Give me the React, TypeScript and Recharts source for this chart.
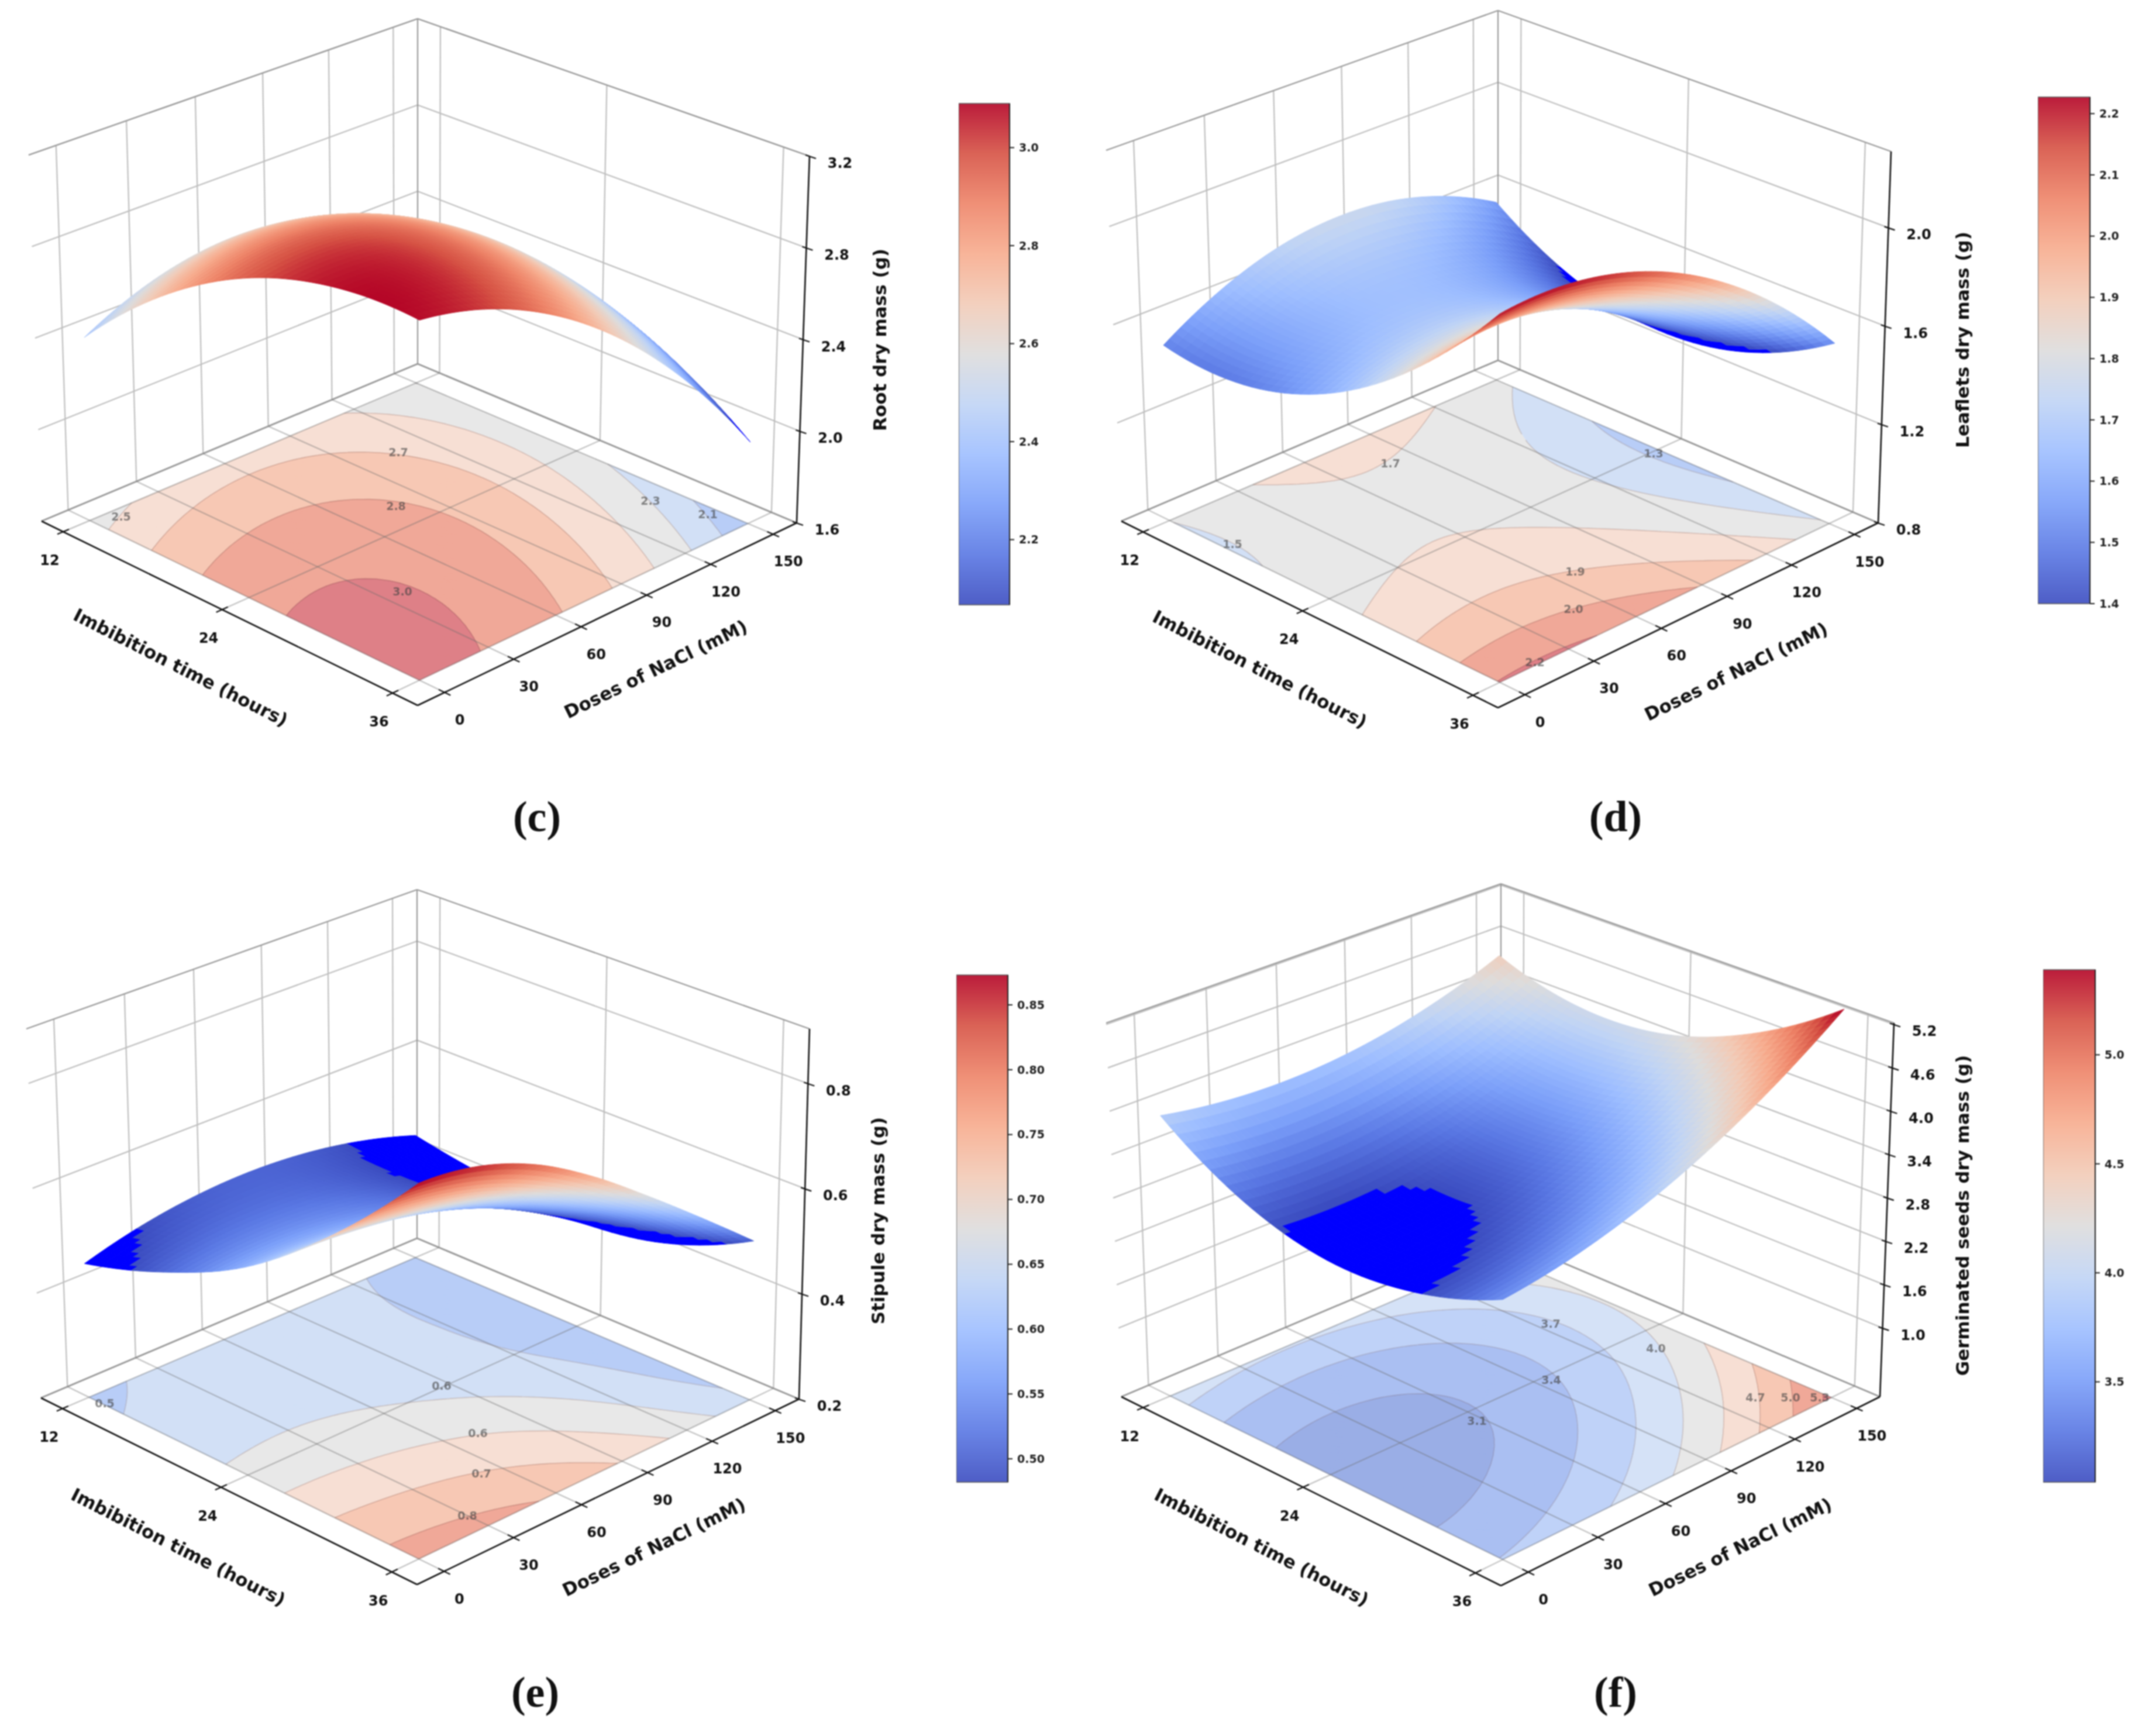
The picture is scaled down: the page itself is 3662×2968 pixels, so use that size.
import * as React from "react";
import { Bar, BarChart, Scatter, ScatterChart, XAxis, YAxis } from "recharts";

// values
const imbibitionGrid = [12, 18, 24, 30, 36];
const naclGrid = [0, 25, 50, 75, 100, 125, 150];
const imbibitionTicks = [12, 24, 36];
const naclTicks = [0, 30, 60, 90, 120, 150];

const rootDryMass = [
  [2.4, 2.516, 2.578, 2.587, 2.543, 2.447, 2.297],
  [2.73, 2.803, 2.823, 2.79, 2.703, 2.564, 2.372],
  [2.955, 2.986, 2.962, 2.887, 2.757, 2.576, 2.34],
  [3.07, 3.058, 2.992, 2.874, 2.702, 2.478, 2.2],
  [3.08, 3.025, 2.917, 2.756, 2.542, 2.275, 1.955],
];
const leafletsDryMass = [
  [1.514, 1.645, 1.728, 1.76, 1.743, 1.676, 1.561],
  [1.499, 1.6, 1.652, 1.654, 1.607, 1.51, 1.364],
  [1.611, 1.682, 1.704, 1.676, 1.599, 1.472, 1.296],
  [1.848, 1.889, 1.881, 1.822, 1.715, 1.558, 1.352],
  [2.211, 2.222, 2.183, 2.095, 1.957, 1.77, 1.533],
];
const stipuleDryMass = [
  [0.455, 0.4835, 0.4998, 0.5041, 0.4963, 0.4765, 0.445],
  [0.507, 0.5224, 0.5256, 0.5168, 0.4959, 0.463, 0.4178],
  [0.585, 0.5873, 0.5774, 0.5555, 0.5215, 0.47, 0.405],
  [0.71, 0.7, 0.68, 0.645, 0.59, 0.52, 0.43],
  [0.873, 0.86, 0.82, 0.755, 0.675, 0.59, 0.502],
];
const seedsDryMass = [
  [3.93, 3.804, 3.76, 3.8, 3.924, 4.131, 4.42],
  [3.235, 3.171, 3.19, 3.293, 3.479, 3.748, 4.1],
  [2.93, 2.929, 3.01, 3.175, 3.424, 3.756, 4.17],
  [3.015, 3.076, 3.221, 3.448, 3.759, 4.153, 4.631],
  [3.43, 3.554, 3.761, 4.05, 4.424, 4.881, 5.421],
];

const rootLevels = [2.12, 2.3, 2.49, 2.67, 2.84, 3.02];
const leafletsLevels = [1.34, 1.51, 1.69, 1.86, 2.03, 2.2];
const stipuleLevels = [0.475, 0.56, 0.635, 0.715, 0.815];
const seedsLevels = [3.09, 3.41, 3.73, 4.05, 4.37, 4.69, 5.01, 5.33];

const rootZTicks = [1.6, 2.0, 2.4, 2.8, 3.2];
const leafletsZTicks = [0.8, 1.2, 1.6, 2.0];
const stipuleZTicks = [0.2, 0.4, 0.6, 0.8];
const seedsZTicks = [1.0, 1.6, 2.2, 2.8, 3.4, 4.0, 4.6, 5.2];

const rootBarTicks = [2.2, 2.4, 2.6, 2.8, 3.0];
const leafletsBarTicks = [1.4, 1.5, 1.6, 1.7, 1.8, 1.9, 2.0, 2.1, 2.2];
const stipuleBarTicks = [0.5, 0.55, 0.6, 0.65, 0.7, 0.75, 0.8, 0.85];
const seedsBarTicks = [3.5, 4.0, 4.5, 5.0];

// axis limits and drawing constants
const T_LIM = [10.3, 37.7];
const N_LIM = [-11.5, 161.5];
const SUB = 10;
const FONT = "'DejaVu Sans', sans-serif";
const CHART_W = 1660;
const CHART_H = 1330;

const COOLWARM = ["#3b4cc0", "#5977e3", "#7b9ff9", "#9ebeff", "#c0d4f5", "#dddcdc", "#f2cbb7", "#f7ac8e", "#ee8468", "#d65244", "#b40426"];

const BANDS_7 = ["#b8cdf7", "#d2e0f6", "#e8e8e8", "#f7dfd4", "#f7c8b4", "#f0a898", "#de8087"];
const BANDS_E = ["#b8cdf7", "#d2e0f6", "#e8e8e8", "#f7dfd4", "#f7c8b4", "#f0a898"];
const BANDS_F = ["#9aaee6", "#aabff2", "#bfd2f8", "#d5e2f7", "#e8e8e8", "#f7dfd4", "#f7c8b4", "#f0a898", "#de8087"];

const panels = [
  {
    id: "c", rows: rootDryMass, levels: rootLevels, bands: BANDS_7, zTicks: rootZTicks, zLim: [1.6, 3.2], vLim: [2.067, 3.09],
    origin: [0, 0],
    floor: [[71, 891], [714, 1206], [1362, 894], [714, 622]],
    top: [[49, 265], [714, 534], [1384, 267], [714, 32]],
    xLabel: [309, 1141], yLabel: [1121, 1144], zLabel: [1504, 581], zTitle: "Root dry mass (g)",
    contourText: ["2.5", "2.7", "2.8", "3.0", "2.3", "2.1"],
    contourAt: [[207, 883], [681, 773], [677, 865], [688, 1011], [1112, 856], [1210, 879]],
  },
  {
    id: "d", rows: leafletsDryMass, levels: leafletsLevels, bands: BANDS_7, zTicks: leafletsZTicks, zLim: [0.8, 2.31], vLim: [1.4, 2.227],
    origin: [1840, 0],
    floor: [[1917, 891], [2561, 1210], [3211, 894], [2561, 616]],
    top: [[1891, 257], [2561, 529], [3233, 259], [2561, 18]],
    xLabel: [2154, 1144], yLabel: [2968, 1148], zLabel: [3355, 581], zTitle: "Leaflets dry mass (g)",
    contourText: ["1.5", "1.7", "1.3", "1.9", "2.0", "2.2"],
    contourAt: [[2107, 930], [2377, 792], [2827, 775], [2693, 977], [2690, 1041], [2624, 1132]],
  },
  {
    id: "e", rows: stipuleDryMass, levels: stipuleLevels, bands: BANDS_E, zTicks: stipuleZTicks, zLim: [0.2, 0.904], vLim: [0.482, 0.873],
    origin: [0, 1450],
    floor: [[70, 2390], [713, 2709], [1366, 2392], [713, 2117]],
    top: [[45, 1759], [713, 2030], [1384, 1759], [713, 1521]],
    xLabel: [305, 2645], yLabel: [1118, 2645], zLabel: [1501, 2087], zTitle: "Stipule dry mass (g)",
    contourText: ["0.5", "0.6", "0.6", "0.7", "0.8"],
    contourAt: [[179, 2399], [755, 2369], [817, 2450], [823, 2519], [799, 2591]],
  },
  {
    id: "f", rows: seedsDryMass, levels: seedsLevels, bands: BANDS_F, zTicks: seedsZTicks, zLim: [0.05, 5.22], vLim: [3.04, 5.39],
    origin: [1840, 1450],
    floor: [[1917, 2388], [2566, 2711], [3214, 2388], [2566, 2114]],
    top: [[1891, 1749], [2566, 2024], [3238, 1749], [2566, 1511]],
    xLabel: [2157, 2645], yLabel: [2975, 2645], zLabel: [3355, 2078], zTitle: "Germinated seeds dry mass (g)",
    contourText: ["3.7", "4.0", "3.4", "3.1", "4.7", "5.0", "5.3"],
    contourAt: [[2651, 2263], [2831, 2305], [2652, 2359], [2525, 2429], [3001, 2389], [3061, 2389], [3111, 2389]],
  },
];

const colorBars = [
  { id: "c", lim: [2.067, 3.09], ticks: rootBarTicks, digits: 1, box: [1639, 177, 87, 857] },
  { id: "d", lim: [1.4, 2.227], ticks: leafletsBarTicks, digits: 1, box: [3484, 166, 89, 866] },
  { id: "e", lim: [0.482, 0.873], ticks: stipuleBarTicks, digits: 2, box: [1635, 1667, 88, 867] },
  { id: "f", lim: [3.04, 5.39], ticks: seedsBarTicks, digits: 1, box: [3493, 1658, 89, 876] },
];

const captions = [
  { text: "(c)", at: [918, 1396] },
  { text: "(d)", at: [2762, 1396] },
  { text: "(e)", at: [915, 2893] },
  { text: "(f)", at: [2762, 2893] },
];

function homography(q: number[][]) {
  const [[x0, y0], [x1, y1], [x2, y2], [x3, y3]] = q;
  const dx1 = x1 - x2, dx2 = x3 - x2, sx = x0 - x1 + x2 - x3;
  const dy1 = y1 - y2, dy2 = y3 - y2, sy = y0 - y1 + y2 - y3;
  const den = dx1 * dy2 - dx2 * dy1;
  const g = (sx * dy2 - dx2 * sy) / den;
  const h = (dx1 * sy - sx * dy1) / den;
  const a = x1 - x0 + g * x1, b = x3 - x0 + h * x3;
  const d = y1 - y0 + g * y1, e = y3 - y0 + h * y3;
  return (u: number, v: number) => {
    const w = g * u + h * v + 1;
    return [(a * u + b * v + x0) / w, (d * u + e * v + y0) / w];
  };
}

function hexRgb(hex: string) {
  return [1, 3, 5].map((i) => parseInt(hex.slice(i, i + 2), 16));
}

function coolwarm(s: number) {
  const p = Math.max(0, Math.min(1, s)) * (COOLWARM.length - 1);
  const i = Math.min(COOLWARM.length - 2, Math.floor(p));
  const a = hexRgb(COOLWARM[i]);
  const b = hexRgb(COOLWARM[i + 1]);
  const c = a.map((v, k) => Math.round(v + (b[k] - v) * (p - i)));
  return `rgb(${c[0]},${c[1]},${c[2]})`;
}

function spline(v: number[], pos: number) {
  const n = v.length;
  const i = Math.min(n - 2, Math.floor(pos));
  const s = pos - i;
  const p1 = v[i], p2 = v[i + 1];
  const p0 = i > 0 ? v[i - 1] : 3 * v[0] - 3 * v[1] + v[2];
  const p3 = i + 2 < n ? v[i + 2] : 3 * v[n - 1] - 3 * v[n - 2] + v[n - 3];
  return 0.5 * (2 * p1 + (p2 - p0) * s + (2 * p0 - 5 * p1 + 4 * p2 - p3) * s * s + (3 * p1 - p0 - 3 * p2 + p3) * s * s * s);
}

// smooth rendering mesh between the values
function mesh(rows: number[][]) {
  const out: number[][] = [];
  const nr = (rows.length - 1) * SUB;
  const nc = (rows[0].length - 1) * SUB;
  for (let i = 0; i <= nr; i++) {
    const line: number[] = [];
    for (let j = 0; j <= nc; j++) {
      const across = rows.map((r) => spline(r, j / SUB));
      line.push(spline(across, i / SUB));
    }
    out.push(line);
  }
  return out;
}

function clipBand(tri: number[][], lo: number, hi: number) {
  const clip = (poly: number[][], keep: (z: number) => boolean, level: number) => {
    const res: number[][] = [];
    poly.forEach((p, i) => {
      const q = poly[(i + 1) % poly.length];
      if (keep(p[2])) res.push(p);
      if (keep(p[2]) !== keep(q[2])) {
        const s = (level - p[2]) / (q[2] - p[2]);
        res.push([p[0] + (q[0] - p[0]) * s, p[1] + (q[1] - p[1]) * s, level]);
      }
    });
    return res;
  };
  let poly = clip(tri, (z) => z >= lo, lo);
  if (poly.length) poly = clip(poly, (z) => z <= hi, hi);
  return poly;
}

function buildPanel(p: any) {
  const [ox, oy] = p.origin;
  const floorH = homography(p.floor);
  const topH = homography(p.top);
  const project = (t: number, n: number, z: number) => {
    const u = (t - T_LIM[0]) / (T_LIM[1] - T_LIM[0]);
    const v = (n - N_LIM[0]) / (N_LIM[1] - N_LIM[0]);
    const a = floorH(u, v);
    const b = topH(u, v);
    const w = (z - p.zLim[0]) / (p.zLim[1] - p.zLim[0]);
    return [a[0] + (b[0] - a[0]) * w - ox, a[1] + (b[1] - a[1]) * w - oy];
  };
  const seg = (a: number[], b: number[], stroke: string, w: number) => ({ x: a[0], y: a[1], x2: b[0], y2: b[1], stroke, w });
  const [z0, z1] = p.zLim;
  const [t0, t1] = T_LIM;
  const [n0, n1] = N_LIM;

  const GRID = "#bebebe";
  const EDGE = "#989898";
  const panes: any[] = [];
  naclTicks.forEach((n) => panes.push(seg(project(t0, n, z0), project(t0, n, z1), GRID, 2.2)));
  imbibitionTicks.forEach((t) => panes.push(seg(project(t, n1, z0), project(t, n1, z1), GRID, 2.2)));
  p.zTicks.forEach((z: number) => {
    panes.push(seg(project(t0, n0, z), project(t0, n1, z), GRID, 2.2));
    panes.push(seg(project(t0, n1, z), project(t1, n1, z), GRID, 2.2));
  });
  panes.push(seg(project(t0, n0, z1), project(t0, n1, z1), EDGE, 2.2));
  panes.push(seg(project(t0, n1, z1), project(t1, n1, z1), EDGE, 2.2));
  panes.push(seg(project(t0, n1, z0), project(t0, n1, z1), EDGE, 2.2));
  panes.push(seg(project(t0, n0, z0), project(t0, n1, z0), EDGE, 2.8));
  panes.push(seg(project(t0, n1, z0), project(t1, n1, z0), EDGE, 2.8));

  const floorGrid: any[] = [];
  const OVER = "rgba(110,110,110,0.42)";
  imbibitionTicks.forEach((t) => floorGrid.push(seg(project(t, n0, z0), project(t, n1, z0), OVER, 2.2)));
  naclTicks.forEach((n) => floorGrid.push(seg(project(t0, n, z0), project(t1, n, z0), OVER, 2.2)));

  // fine mesh: values and both screen positions
  const fine = mesh(p.rows);
  const nr = fine.length - 1;
  const nc = fine[0].length - 1;
  const tAt = (i: number) => imbibitionGrid[0] + ((imbibitionGrid[imbibitionGrid.length - 1] - imbibitionGrid[0]) * i) / nr;
  const nAt = (j: number) => naclGrid[0] + ((naclGrid[naclGrid.length - 1] - naclGrid[0]) * j) / nc;

  const cells: any[] = [];
  for (let i = 0; i < nr; i++) {
    for (let j = nc - 1; j >= 0; j--) {
      const corners = [[i, j], [i + 1, j], [i + 1, j + 1], [i, j + 1]].map(([a, b]) => project(tAt(a), nAt(b), fine[a][b]));
      const mid = (fine[i][j] + fine[i + 1][j] + fine[i + 1][j + 1] + fine[i][j + 1]) / 4;
      const fill = mid < p.vLim[0] ? "#0000ff" : coolwarm((mid - p.vLim[0]) / (p.vLim[1] - p.vLim[0]));
      cells.push({ x: corners[0][0], y: corners[0][1], pts: corners, fill });
    }
  }

  // filled contours on the floor
  const edges = [-Infinity, ...p.levels, Infinity];
  const bandPaths = p.bands.map(() => [] as string[]);
  const linePaths = p.levels.map(() => [] as string[]);
  for (let i = 0; i < nr; i++) {
    for (let j = 0; j < nc; j++) {
      const c = [[i, j], [i + 1, j], [i + 1, j + 1], [i, j + 1]].map(([a, b]) => {
        const q = project(tAt(a), nAt(b), z0);
        return [q[0], q[1], fine[a][b]];
      });
      [[c[0], c[1], c[2]], [c[0], c[2], c[3]]].forEach((tri) => {
        const zs = tri.map((q) => q[2]);
        const lo = Math.min(...zs), hi = Math.max(...zs);
        p.bands.forEach((_: string, b: number) => {
          if (hi < edges[b] || lo > edges[b + 1]) return;
          const poly = clipBand(tri, edges[b], edges[b + 1]);
          if (poly.length > 2) bandPaths[b].push("M" + poly.map((q) => `${q[0].toFixed(1)} ${q[1].toFixed(1)}`).join("L") + "Z");
        });
        p.levels.forEach((lv: number, k: number) => {
          if (hi < lv || lo > lv) return;
          const pts: number[][] = [];
          tri.forEach((q, m) => {
            const r = tri[(m + 1) % 3];
            if ((q[2] - lv) * (r[2] - lv) < 0) {
              const s = (lv - q[2]) / (r[2] - q[2]);
              pts.push([q[0] + (r[0] - q[0]) * s, q[1] + (r[1] - q[1]) * s]);
            }
          });
          if (pts.length === 2) linePaths[k].push(`M${pts[0][0].toFixed(1)} ${pts[0][1].toFixed(1)}L${pts[1][0].toFixed(1)} ${pts[1][1].toFixed(1)}`);
        });
      });
    }
  }
  const anchor = project(36, 0, z0);
  const bands = p.bands.map((fill: string, b: number) => ({ x: anchor[0], y: anchor[1], d: bandPaths[b].join(""), fill, stroke: fill, w: 1 }));
  const contourLines = p.levels.map((_: number, k: number) => ({ x: anchor[0], y: anchor[1], d: linePaths[k].join(""), fill: "none", stroke: "rgba(90,50,50,0.22)", w: 1.6 }));

  const axes: any[] = [];
  axes.push(seg(project(t0, n0, z0), project(t1, n0, z0), "#111", 2.6));
  axes.push(seg(project(t1, n0, z0), project(t1, n1, z0), "#111", 2.6));
  axes.push(seg(project(t1, n1, z0), project(t1, n1, z1), "#111", 2.6));
  const texts: any[] = [];
  const text = (at: number[], label: string, size: number, angle = 0, color = "#111", opacity = 1) =>
    texts.push({ x: at[0], y: at[1], label, size, angle, color, opacity });
  imbibitionTicks.forEach((t) => {
    const q = project(t, n0, z0);
    axes.push(seg(project(t, n0 - 2.5, z0), project(t, n0 + 2.5, z0), "#111", 2.2));
    text([q[0] - 23, q[1] + 49], String(t), 24);
  });
  naclTicks.forEach((n) => {
    const q = project(t1, n, z0);
    axes.push(seg(project(t1 + 0.4, n, z0), project(t1 - 0.4, n, z0), "#111", 2.2));
    text([q[0] + 26, q[1] + 47], String(n), 24);
  });
  p.zTicks.forEach((z: number) => {
    const q = project(t1, n1, z);
    axes.push(seg([q[0] - 7, q[1] - 2], [q[0] + 11, q[1] + 4], "#111", 2.2));
    text([q[0] + 52, q[1] + 12], z.toFixed(1), 24);
  });
  text([p.xLabel[0] - ox, p.xLabel[1] - oy], "Imbibition time (hours)", 31, 27);
  text([p.yLabel[0] - ox, p.yLabel[1] - oy], "Doses of NaCl (mM)", 31, -26);
  text([p.zLabel[0] - ox, p.zLabel[1] - oy], p.zTitle, 31, -90);

  const contourTexts = p.contourText.map((label: string, i: number) => ({
    x: p.contourAt[i][0] - ox, y: p.contourAt[i][1] - oy, label, size: 19, angle: 0, color: "#444", opacity: 0.62,
  }));
  return { panes, floorGrid, cells, bands, contourLines, axes, texts, contourTexts };
}

const LineMark = ({ cx, cy, payload: d }: any) => (
  <line x1={cx} y1={cy} x2={cx + d.x2 - d.x} y2={cy + d.y2 - d.y} stroke={d.stroke} strokeWidth={d.w} />
);

const CellMark = ({ cx, cy, payload: d }: any) => (
  <polygon
    points={d.pts.map((q: number[]) => `${(q[0] + cx - d.x).toFixed(1)},${(q[1] + cy - d.y).toFixed(1)}`).join(" ")}
    fill={d.fill}
    stroke={d.fill}
    strokeWidth={1}
  />
);

const PathMark = ({ cx, cy, payload: d }: any) => (
  <path d={d.d} transform={`translate(${cx - d.x},${cy - d.y})`} fill={d.fill} stroke={d.stroke} strokeWidth={d.w} />
);

const TextMark = ({ cx, cy, payload: d }: any) => (
  <text
    x={cx}
    y={cy}
    transform={`rotate(${d.angle} ${cx} ${cy})`}
    textAnchor="middle"
    dominantBaseline="central"
    fontFamily={FONT}
    fontWeight="bold"
    fontSize={d.size}
    fill={d.color}
    opacity={d.opacity}
  >
    {d.label}
  </text>
);

function SurfacePanel({ panel }: { panel: any }) {
  const m = React.useMemo(() => buildPanel(panel), [panel]);
  return (
    <div style={{ position: "absolute", left: panel.origin[0], top: panel.origin[1], width: CHART_W, height: CHART_H }}>
      <ScatterChart width={CHART_W} height={CHART_H} margin={{ top: 0, right: 0, bottom: 0, left: 0 }}>
        <XAxis type="number" dataKey="x" domain={[0, CHART_W]} hide />
        <YAxis type="number" dataKey="y" domain={[0, CHART_H]} reversed hide />
        <Scatter data={m.panes} shape={LineMark} isAnimationActive={false} />
        <Scatter data={m.bands} shape={PathMark} isAnimationActive={false} />
        <Scatter data={m.contourLines} shape={PathMark} isAnimationActive={false} />
        <Scatter data={m.floorGrid} shape={LineMark} isAnimationActive={false} />
        <Scatter data={m.contourTexts} shape={TextMark} isAnimationActive={false} />
        <Scatter data={m.cells} shape={CellMark} isAnimationActive={false} />
        <Scatter data={m.axes} shape={LineMark} isAnimationActive={false} />
        <Scatter data={m.texts} shape={TextMark} isAnimationActive={false} />
      </ScatterChart>
    </div>
  );
}

function ColorBar({ bar }: { bar: any }) {
  const [left, top, w, h] = bar.box;
  const pad = 14;
  const axisW = 100;
  const gradientId = `colorbar-${bar.id}`;
  return (
    <div style={{ position: "absolute", left, top: top - pad }}>
      <BarChart
        width={w + axisW}
        height={h + pad * 2}
        data={[{ name: bar.id, range: bar.lim }]}
        margin={{ top: pad, right: 0, bottom: pad, left: 0 }}
        barCategoryGap={0}
      >
        <defs>
          <linearGradient id={gradientId} x1="0" y1="1" x2="0" y2="0">
            {COOLWARM.map((c, i) => (
              <stop key={c} offset={`${(i * 100) / (COOLWARM.length - 1)}%`} stopColor={c} />
            ))}
          </linearGradient>
        </defs>
        <XAxis dataKey="name" hide />
        <YAxis
          orientation="right"
          type="number"
          width={axisW}
          domain={bar.lim}
          ticks={bar.ticks}
          interval={0}
          tickSize={8}
          tickMargin={8}
          tickLine={{ stroke: "#222", strokeWidth: 2 }}
          axisLine={{ stroke: "#222", strokeWidth: 2 }}
          tickFormatter={(v: number) => v.toFixed(bar.digits)}
          tick={{ fill: "#222", fontSize: 19, fontWeight: "bold", fontFamily: FONT }}
        />
        <Bar dataKey="range" fill={`url(#${gradientId})`} fillOpacity={0.9} stroke="#555" strokeWidth={1.5} isAnimationActive={false} />
      </BarChart>
    </div>
  );
}

export default function App() {
  return (
    <div style={{ position: "absolute", left: 0, top: 0, width: 3662, height: 2968, background: "#fff", overflow: "hidden", filter: "blur(1px)" }}>
      {panels.map((p) => (
        <SurfacePanel key={p.id} panel={p} />
      ))}
      {colorBars.map((b) => (
        <ColorBar key={b.id} bar={b} />
      ))}
      {captions.map((c) => (
        <div
          key={c.text}
          style={{
            position: "absolute",
            left: c.at[0] - 100,
            top: c.at[1] - 50,
            width: 200,
            height: 100,
            lineHeight: "100px",
            textAlign: "center",
            fontFamily: "'Liberation Serif', serif",
            fontWeight: "bold",
            fontSize: 74,
            color: "#111",
          }}
        >
          {c.text}
        </div>
      ))}
    </div>
  );
}
